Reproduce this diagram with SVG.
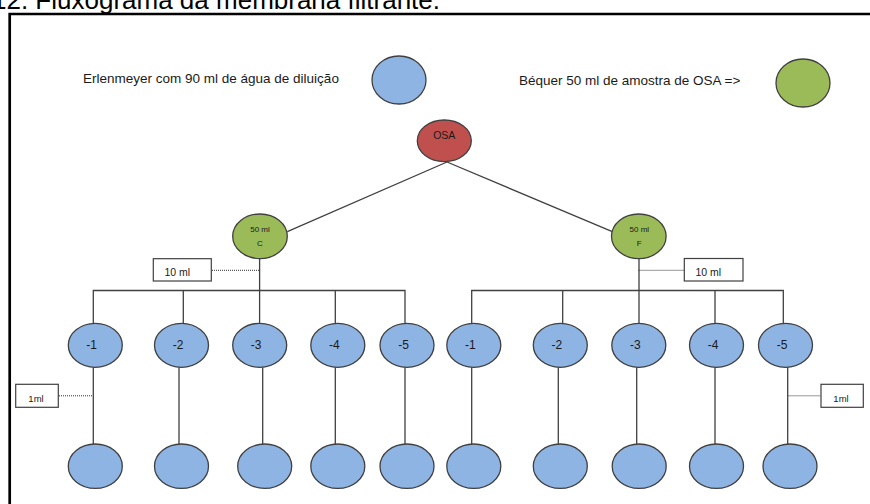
<svg xmlns="http://www.w3.org/2000/svg" width="870" height="504" viewBox="0 0 870 504">
<style>
text{font-family:"Liberation Sans",Arial,sans-serif;fill:#1a1a1a}
.blue{fill:#8EB4E3;stroke:#404040;stroke-width:1.3}
.green{fill:#9BBB59;stroke:#404040;stroke-width:1.3}
.red{fill:#C0504D;stroke:#404040;stroke-width:1.3}
.box{fill:#fff;stroke:#404040;stroke-width:1.2}
.ln{stroke:#404040;stroke-width:1.3;fill:none}
.dot{stroke:#303030;stroke-width:1;stroke-dasharray:1 1;fill:none}
.lbl{font-size:12px;text-anchor:middle}
.leg{font-size:13.5px}
</style>
<rect width="870" height="504" fill="#fff"/>
<text x="-8" y="8.7" style="font-size:26px;fill:#000">12. Fluxograma da membrana filtrante.</text>
<path d="M9.7 504V14H870" fill="none" stroke="#000" stroke-width="2.7"/>

<g id="legend-erlenmeyer">
<text class="leg" x="83" y="83">Erlenmeyer com 90 ml de água de diluição</text>
<ellipse class="blue" cx="399" cy="80" rx="27" ry="24"/>
</g>
<g id="legend-bequer">
<text class="leg" x="519" y="85">Béquer 50 ml de amostra de OSA =&gt;</text>
<ellipse class="green" cx="803" cy="83" rx="27" ry="24"/>
</g>

<g id="connectors">
<path class="ln" d="M447 162L287.3 231.7M447 162L612.3 231.7"/>
<path class="ln" d="M259.6 258.7V323.3M639 258.7V323.3"/>
<path class="ln" d="M93.3 323.3V290.5H405V323.3M183.3 290.5V323.3M335.3 290.5V323.3"/>
<path class="ln" d="M471.7 323.3V290.5H783.3V323.3M562.7 290.5V323.3M715 290.5V323.3"/>
<path class="ln" d="M93.3 367.3V444M179 367.3V444M262.7 367.3V444M335.3 367.3V444M405 367.3V444"/>
<path class="ln" d="M471.7 367.3V444M558.3 367.3V444M636.7 367.3V444M715 367.3V444M787.7 367.3V444"/>
<path class="dot" d="M212 270.3H259M638.5 270.3H684M59 395.8H92.5M788.5 395.8H820.7"/>
</g>

<g id="osa">
<ellipse class="red" cx="444.3" cy="140.8" rx="27" ry="20.8"/>
<text x="444.3" y="138.8" style="font-size:10.5px;text-anchor:middle">OSA</text>
</g>
<g id="bequer-c">
<ellipse class="green" cx="260" cy="236.3" rx="27.3" ry="22.3"/>
<text x="260" y="232" style="font-size:8px;text-anchor:middle">50 ml</text>
<text x="260" y="245.5" style="font-size:8px;text-anchor:middle">C</text>
</g>
<g id="bequer-f">
<ellipse class="green" cx="638.8" cy="236.3" rx="27.3" ry="22.3"/>
<text x="639.3" y="232" style="font-size:8px;text-anchor:middle">50 ml</text>
<text x="639.3" y="245.5" style="font-size:8px;text-anchor:middle">F</text>
</g>
<g id="label-10ml-c">
<rect class="box" x="153.3" y="258.7" width="58" height="22.3"/>
<text x="177.3" y="275.5" style="font-size:10.5px;text-anchor:middle">10 ml</text>
</g>
<g id="label-10ml-f">
<rect class="box" x="684.3" y="258.5" width="58.7" height="22.5"/>
<text x="708.3" y="275.5" style="font-size:10.5px;text-anchor:middle">10 ml</text>
</g>
<g id="label-1ml-c">
<rect class="box" x="15.7" y="384.3" width="42.6" height="23"/>
<text x="36" y="401.5" style="font-size:9.5px;text-anchor:middle">1ml</text>
</g>
<g id="label-1ml-f">
<rect class="box" x="821" y="384.3" width="42.3" height="23"/>
<text x="841" y="401.5" style="font-size:9.5px;text-anchor:middle">1ml</text>
</g>

<g id="c-dil-1"><ellipse class="blue" cx="95.3" cy="345.3" rx="27" ry="22"/><text class="lbl" x="91.5" y="348.5">-1</text></g>
<g id="c-dil-2"><ellipse class="blue" cx="181.5" cy="345.3" rx="27" ry="22"/><text class="lbl" x="178" y="348.5">-2</text></g>
<g id="c-dil-3"><ellipse class="blue" cx="259.7" cy="345.3" rx="27" ry="22"/><text class="lbl" x="256.2" y="348.5">-3</text></g>
<g id="c-dil-4"><ellipse class="blue" cx="337.8" cy="345.3" rx="27" ry="22"/><text class="lbl" x="334.3" y="348.5">-4</text></g>
<g id="c-dil-5"><ellipse class="blue" cx="407" cy="345.3" rx="27" ry="22"/><text class="lbl" x="403.5" y="348.5">-5</text></g>
<g id="f-dil-1"><ellipse class="blue" cx="473.8" cy="345.3" rx="27" ry="22"/><text class="lbl" x="470.3" y="348.5">-1</text></g>
<g id="f-dil-2"><ellipse class="blue" cx="560.3" cy="345.3" rx="27" ry="22"/><text class="lbl" x="556.8" y="348.5">-2</text></g>
<g id="f-dil-3"><ellipse class="blue" cx="638.8" cy="345.3" rx="27" ry="22"/><text class="lbl" x="635.3" y="348.5">-3</text></g>
<g id="f-dil-4"><ellipse class="blue" cx="716.5" cy="345.3" rx="27" ry="22"/><text class="lbl" x="713" y="348.5">-4</text></g>
<g id="f-dil-5"><ellipse class="blue" cx="785.5" cy="345.3" rx="27" ry="22"/><text class="lbl" x="782" y="348.5">-5</text></g>

<g id="c-mem-1"><ellipse class="blue" cx="95.3" cy="466.2" rx="27" ry="22.2"/></g>
<g id="c-mem-2"><ellipse class="blue" cx="181.5" cy="466.2" rx="27" ry="22.2"/></g>
<g id="c-mem-3"><ellipse class="blue" cx="264.7" cy="466.2" rx="27" ry="22.2"/></g>
<g id="c-mem-4"><ellipse class="blue" cx="337.8" cy="466.2" rx="27" ry="22.2"/></g>
<g id="c-mem-5"><ellipse class="blue" cx="407" cy="466.2" rx="27" ry="22.2"/></g>
<g id="f-mem-1"><ellipse class="blue" cx="473.8" cy="466.2" rx="27" ry="22.2"/></g>
<g id="f-mem-2"><ellipse class="blue" cx="560.3" cy="466.2" rx="27" ry="22.2"/></g>
<g id="f-mem-3"><ellipse class="blue" cx="639.2" cy="466.2" rx="27" ry="22.2"/></g>
<g id="f-mem-4"><ellipse class="blue" cx="716.5" cy="466.2" rx="27" ry="22.2"/></g>
<g id="f-mem-5"><ellipse class="blue" cx="790" cy="466.2" rx="27" ry="22.2"/></g>
</svg>
